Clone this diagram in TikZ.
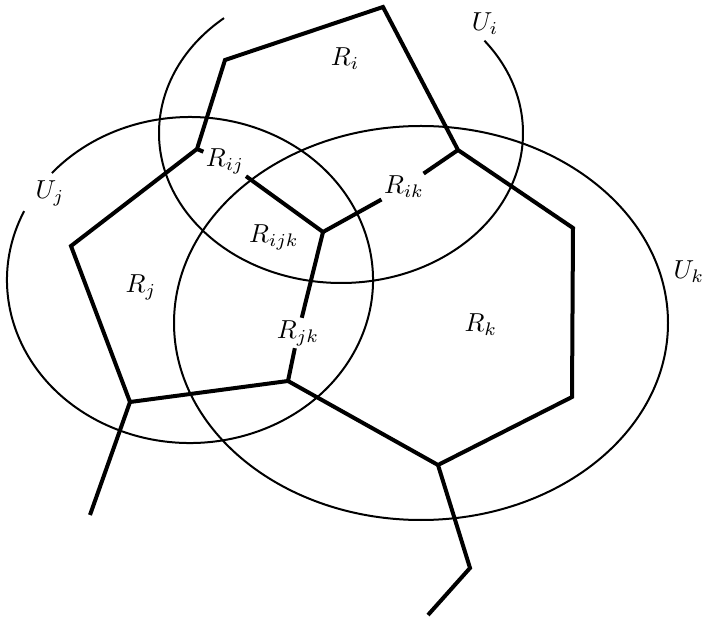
\documentclass[tikz,border=0pt]{standalone}
\usepackage{tikz}
\begin{document}
\begin{tikzpicture}[
  x=1pt,y=1pt,
  every node/.style={scale=2.6,inner sep=0.8pt},
  cut/.style={line width=4pt,line join=miter},
  cover/.style={line width=2pt}
]
  \useasboundingbox (0,0) rectangle (707,619);
  % open sets
  \coordinate (ci) at (341,486);
  \coordinate (cj) at (190,339);
  \coordinate (ck) at (421,296);
  \draw[cover] ([shift={(130:182 and 150)}]ci)
    arc[start angle=130,end angle=398,x radius=182,y radius=150];
  \draw[cover] ([shift={(155:183 and 163)}]cj)
    arc[start angle=155,end angle=499,x radius=183,y radius=163];
  \draw[cover] (ck) ellipse[x radius=247,y radius=197];
  \node (ui) at (485,595) {$U_i$};
  \node (uj) at (50,426) {$U_j$};
  \node (uk) at (689,347) {$U_k$};

  % vertices of the partition
  \coordinate (a) at (225,559);
  \coordinate (b) at (383,612);
  \coordinate (c) at (458,469);
  \coordinate (d) at (573,391);
  \coordinate (e) at (572,222);
  \coordinate (f) at (438,154);
  \coordinate (g) at (470,51);
  \coordinate (gend) at (428,4);
  \coordinate (h) at (288,238);
  \coordinate (p) at (130,217);
  \coordinate (pend) at (90,104);
  \coordinate (q) at (71,373);
  \coordinate (k) at (197,470);
  \coordinate (m) at (323,387);

  \node (ri) at (345,560) {$R_i$};
  \node (rj) at (141,332) {$R_j$};
  \node (rk) at (481,294) {$R_k$};
  \node (rijk) at (274,382) {$R_{ijk}$};
  \node (rij) at (225,458) {$R_{ij}$};
  \node (rik) at (404,432) {$R_{ik}$};
  \node (rjk) at (298,286) {$R_{jk}$};

  \draw[cut] (gend) -- (g) -- (f) -- (e) -- (d) -- (c) -- (b) -- (a)
    -- (k) -- (q) -- (p) -- (h) -- (f);
  \draw[cut] (p) -- (pend);
  \draw[cut] (k) -- (rij) -- (m) -- (rik) -- (c);
  \draw[cut] (m) -- (rjk) -- (h);
\end{tikzpicture}
\end{document}
